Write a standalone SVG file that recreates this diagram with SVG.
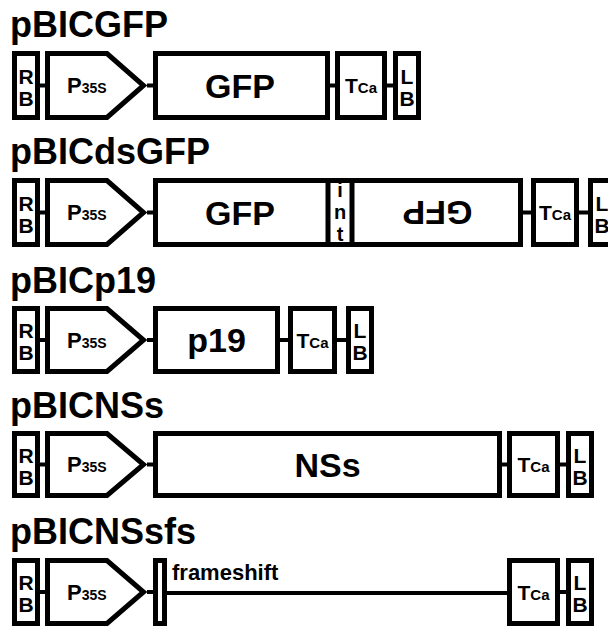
<svg xmlns="http://www.w3.org/2000/svg" width="608" height="627" viewBox="0 0 608 627">
<style>
text{font-family:"Liberation Sans",Arial,sans-serif;font-weight:bold;fill:#000}
.box{fill:#fff;stroke:#000;stroke-width:5}
.ln{stroke:#000;stroke-width:4;fill:none}
.title{font-size:36px}
.big{font-size:34px;text-anchor:middle}
.rb{font-size:21px;text-anchor:middle}
.mid{text-anchor:middle}
.p{font-size:22px}
.t{font-size:21px;text-anchor:middle}
.sub{font-size:14px}
.sub2{font-size:15px}
</style>
<rect width="608" height="627" fill="#fff"/>

<g id="titles">
<text class="title" x="10" y="37">pBICGFP</text>
<text class="title" x="10" y="164">pBICdsGFP</text>
<text class="title" x="10" y="293">pBICp19</text>
<text class="title" x="10" y="418">pBICNSs</text>
<text class="title" x="10" y="544">pBICNSsfs</text>
</g>

<g id="connectors">
<path class="ln" d="M40,85.5H45M147,85.5H153M330,85.5H335M387,85.5H393"/>
<path class="ln" d="M40,212.5H45M147,212.5H153M523,212.5H531M579,212.5H588"/>
<path class="ln" d="M40,340H45M147,340H153M280,340H288M337,340H346"/>
<path class="ln" d="M40,464.5H45M147,464.5H153M502,464.5H507M560,464.5H566"/>
<path class="ln" d="M40,592H45M147,592H153M167,593H507M560,592H566"/>
</g>

<g id="r1-rb"><rect class="box" x="14.5" y="53.5" width="23" height="64"/><text class="rb" x="26" y="83.5">R</text><text class="rb" x="26" y="105.5">B</text></g>
<g id="r1-p35s"><path class="box" d="M47.5,53.5H107L143.5,85.5L107,117.5H47.5Z"/><text class="p" x="67" y="93">P<tspan class="sub">35S</tspan></text></g>
<g id="r1-gfp"><rect class="box" x="155.5" y="53.5" width="172" height="64"/><text class="big" x="240" y="98">GFP</text></g>
<g id="r1-tca"><rect class="box" x="337.5" y="53.5" width="47" height="64"/><text class="t" x="361" y="93">T<tspan class="sub2">Ca</tspan></text></g>
<g id="r1-lb"><rect class="box" x="395.5" y="53.5" width="23" height="64"/><text class="rb" x="407" y="83.5">L</text><text class="rb" x="407" y="105.5">B</text></g>

<g id="r2-rb"><rect class="box" x="14.5" y="180.5" width="23" height="64"/><text class="rb" x="26" y="210.5">R</text><text class="rb" x="26" y="232.5">B</text></g>
<g id="r2-p35s"><path class="box" d="M47.5,180.5H107L143.5,212.5L107,244.5H47.5Z"/><text class="p" x="67" y="220">P<tspan class="sub">35S</tspan></text></g>
<g id="r2-gfp"><rect class="box" x="155.5" y="180.5" width="365" height="64"/><text class="big" x="240" y="225">GFP</text></g>
<g id="r2-int"><path class="ln" style="stroke-width:5" d="M328,180.5V244.5M352,180.5V244.5"/><text class="mid" x="340" y="197" font-size="20">i</text><text class="mid" x="340" y="219" font-size="20">n</text><text class="mid" x="340" y="241" font-size="20">t</text></g>
<g id="r2-gfp-rev"><text class="big" x="437.5" y="224.5" transform="rotate(180 437.5 212.5)">GFP</text></g>
<g id="r2-tca"><rect class="box" x="533.5" y="180.5" width="43" height="64"/><text class="t" x="555" y="220">T<tspan class="sub2">Ca</tspan></text></g>
<g id="r2-lb"><rect class="box" x="590.5" y="180.5" width="23" height="64"/><text class="rb" x="602" y="210.5">L</text><text class="rb" x="602" y="232.5">B</text></g>

<g id="r3-rb"><rect class="box" x="14.5" y="308.5" width="23" height="63"/><text class="rb" x="26" y="338">R</text><text class="rb" x="26" y="360">B</text></g>
<g id="r3-p35s"><path class="box" d="M47.5,308.5H107L143.5,340L107,371.5H47.5Z"/><text class="p" x="67" y="347.5">P<tspan class="sub">35S</tspan></text></g>
<g id="r3-p19"><rect class="box" x="155.5" y="308.5" width="122" height="63"/><text class="big" x="216.5" y="352">p19</text></g>
<g id="r3-tca"><rect class="box" x="290.5" y="308.5" width="44" height="63"/><text class="t" x="312.5" y="347.5">T<tspan class="sub2">Ca</tspan></text></g>
<g id="r3-lb"><rect class="box" x="348.5" y="308.5" width="23" height="63"/><text class="rb" x="360" y="338">L</text><text class="rb" x="360" y="360">B</text></g>

<g id="r4-rb"><rect class="box" x="14.5" y="433.5" width="23" height="62"/><text class="rb" x="26" y="462.5">R</text><text class="rb" x="26" y="484.5">B</text></g>
<g id="r4-p35s"><path class="box" d="M47.5,433.5H107L143.5,464.5L107,495.5H47.5Z"/><text class="p" x="67" y="472">P<tspan class="sub">35S</tspan></text></g>
<g id="r4-nss"><rect class="box" x="155.5" y="433.5" width="344" height="62"/><text class="big" x="327.5" y="477">NSs</text></g>
<g id="r4-tca"><rect class="box" x="509.5" y="433.5" width="48" height="62"/><text class="t" x="533.5" y="472">T<tspan class="sub2">Ca</tspan></text></g>
<g id="r4-lb"><rect class="box" x="568.5" y="433.5" width="23" height="62"/><text class="rb" x="580" y="462.5">L</text><text class="rb" x="580" y="484.5">B</text></g>

<g id="r5-rb"><rect class="box" x="14.5" y="560.5" width="23" height="63"/><text class="rb" x="26" y="590">R</text><text class="rb" x="26" y="612">B</text></g>
<g id="r5-p35s"><path class="box" d="M47.5,560.5H107L143.5,592L107,623.5H47.5Z"/><text class="p" x="67" y="599.5">P<tspan class="sub">35S</tspan></text></g>
<g id="r5-fs"><rect class="box" x="155.5" y="560.5" width="9" height="63"/><text x="172" y="580" font-size="22">frameshift</text></g>
<g id="r5-tca"><rect class="box" x="509.5" y="560.5" width="48" height="63"/><text class="t" x="533.5" y="599.5">T<tspan class="sub2">Ca</tspan></text></g>
<g id="r5-lb"><rect class="box" x="568.5" y="560.5" width="23" height="63"/><text class="rb" x="580" y="590">L</text><text class="rb" x="580" y="612">B</text></g>
</svg>
